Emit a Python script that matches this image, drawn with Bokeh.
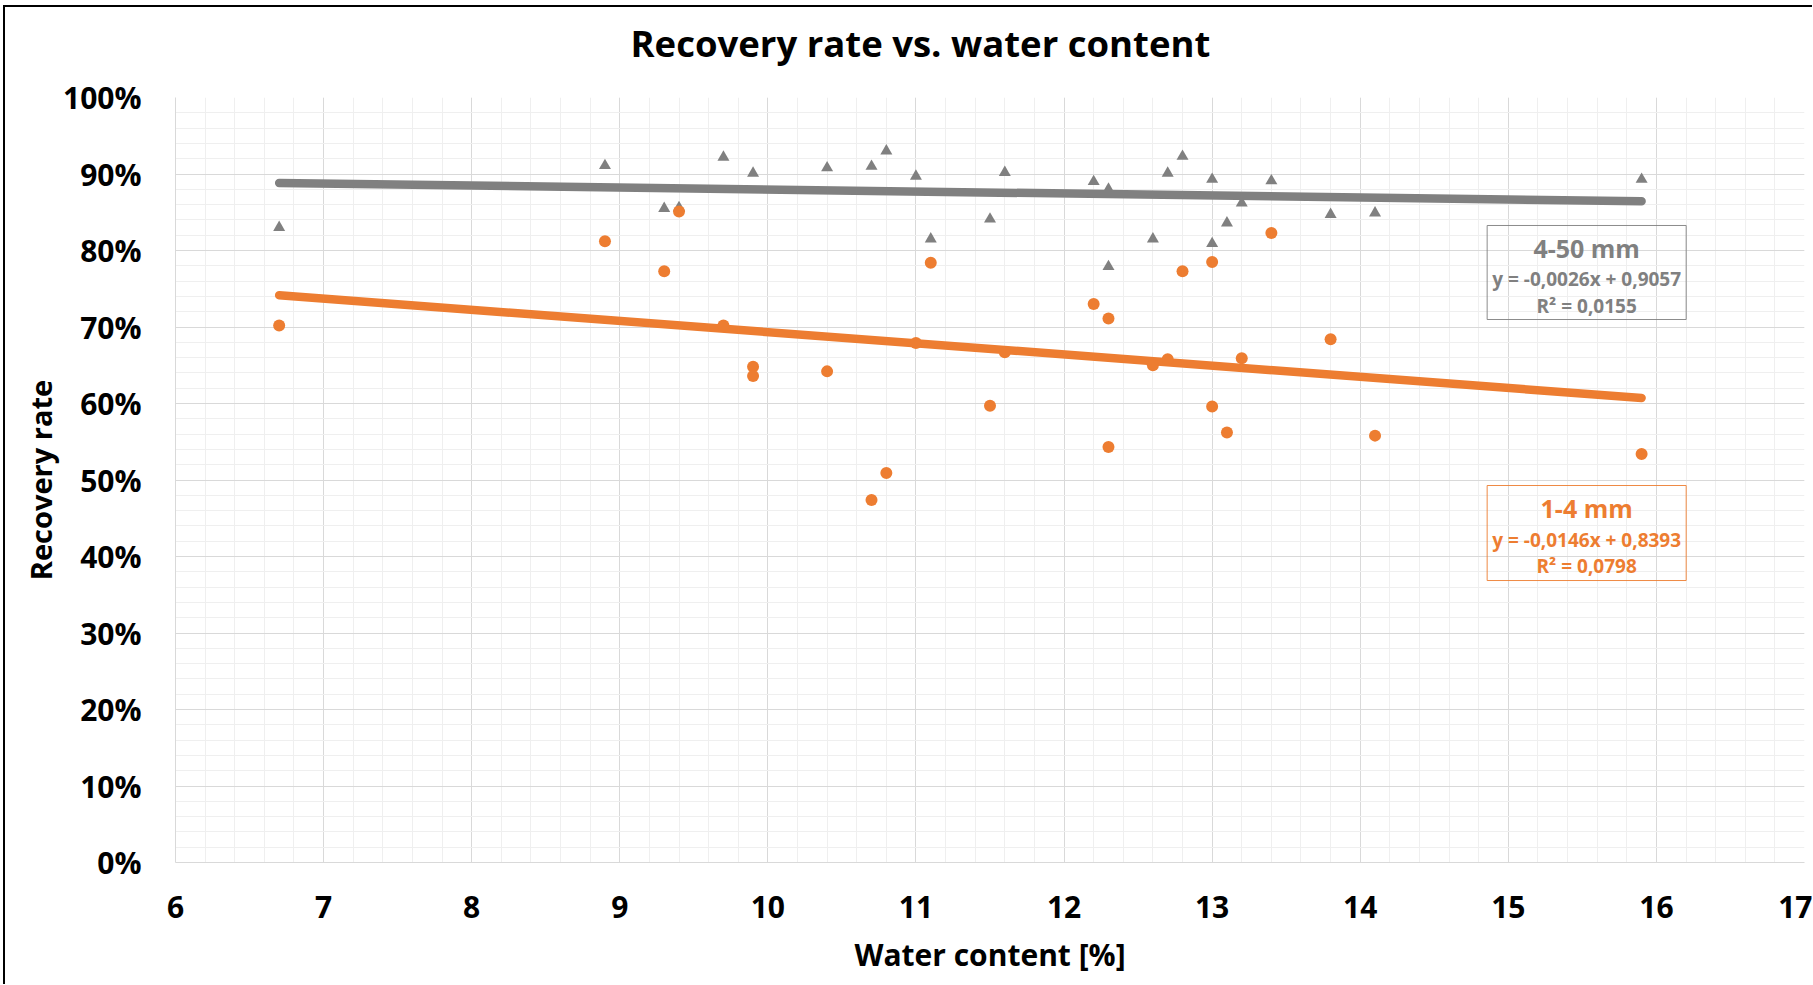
from bokeh.plotting import figure
from bokeh.models import (SingleIntervalTicker, NumeralTickFormatter, BoxAnnotation,
                          Label, Range1d, ColumnDataSource, Title)
from bokeh.embed import file_html
from bokeh.resources import INLINE

# ---------------- data ----------------
coarse_x = [6.7, 8.9, 9.3, 9.4, 9.7, 9.9, 10.4, 10.7, 10.8, 11.0, 11.1, 11.5, 11.6, 12.2,
            12.3, 12.3, 12.6, 12.7, 12.8, 13.0, 13.0, 13.1, 13.2, 13.4, 13.8, 14.1, 15.9]
coarse_y = [0.830, 0.911, 0.855, 0.856, 0.922, 0.901, 0.908, 0.910, 0.930, 0.897, 0.815,
            0.841, 0.902, 0.890, 0.880, 0.779, 0.815, 0.901, 0.923, 0.893, 0.809, 0.836,
            0.862, 0.891, 0.847, 0.849, 0.893]

fine_x = [6.7, 8.9, 9.3, 9.4, 9.7, 9.9, 9.9, 10.4, 10.7, 10.8, 11.0, 11.1, 11.5, 11.6,
          12.2, 12.3, 12.3, 12.6, 12.7, 12.8, 13.0, 13.0, 13.1, 13.2, 13.4, 13.8, 14.1, 15.9]
fine_y = [0.702, 0.812, 0.773, 0.851, 0.702, 0.648, 0.636, 0.642, 0.474, 0.509, 0.679,
          0.784, 0.597, 0.667, 0.730, 0.711, 0.543, 0.650, 0.658, 0.773, 0.785, 0.596,
          0.562, 0.659, 0.823, 0.684, 0.558, 0.534]

# linear trend lines (slope, intercept) and R^2 as printed in the chart
coarse_fit = (-0.0026, 0.9057)
coarse_r2 = "0,0155"
fine_fit = (-0.0146, 0.8393)
fine_r2 = "0,0798"

series_names = ["4-50 mm", "1-4 mm"]
chart_title = "Recovery rate vs. water content"
x_title = "Water content [%]"
y_title = "Recovery rate"
x_ticks_interval = 1
y_ticks_interval = 0.1

GRAY = "#808080"
ORANGE = "#ED7D31"
FONT = "Open Sans"

# ---------------- figure ----------------
W, H = 1812, 984
p = figure(width=W, height=H, x_range=Range1d(6, 17), y_range=Range1d(0, 1),
           output_backend="svg", toolbar_location=None, title=None,
           min_border_left=175, min_border_right=W - 1804, min_border_top=97,
           min_border_bottom=H - 862)
# thin black chart-area border on the left and top edges
p.styles = {"box-shadow": "inset 3px 5px 0 0 white, inset 5px 7px 0 0 black"}
p.outline_line_color = None
p.background_fill_color = "white"
p.border_fill_color = None

# spacer panel between the plot frame and the title (keeps the title high)
p.add_layout(Title(text=" ", text_font_size="1px", standoff=27), "above")
p.add_layout(Title(text=chart_title, text_font=FONT, text_font_style="bold",
                   text_font_size="36.5px", text_color="black", align="left", offset=455,
                   vertical_align="bottom", standoff=0), "above")

p.xaxis.ticker = SingleIntervalTicker(interval=x_ticks_interval, num_minor_ticks=5)
p.yaxis.ticker = SingleIntervalTicker(interval=y_ticks_interval, num_minor_ticks=5)
p.yaxis.formatter = NumeralTickFormatter(format="0%")

for ax in (p.xaxis, p.yaxis):
    ax.major_tick_line_color = None
    ax.minor_tick_line_color = None
    ax.major_tick_out = 0
    ax.major_tick_in = 0
    ax.axis_line_color = "#d9d9d9"
    ax.major_label_text_font = FONT
    ax.major_label_text_font_style = "bold"
    ax.major_label_text_font_size = "30px"
    ax.major_label_text_color = "black"
    ax.axis_label_text_font = FONT
    ax.axis_label_text_font_style = "bold"
    ax.axis_label_text_color = "black"

p.xaxis.axis_label = x_title
p.yaxis.axis_label = y_title
p.xaxis.axis_label_text_font_size = "30px"
p.yaxis.axis_label_text_font_size = "29px"
p.xaxis.major_label_standoff = 29
p.yaxis.major_label_standoff = 30
p.xaxis.axis_label_standoff = 13
p.yaxis.axis_label_standoff = 0

for g in (p.xgrid, p.ygrid):
    g.grid_line_color = "#d9d9d9"
    g.grid_line_width = 1
    g.minor_grid_line_color = "#efefef"
    g.minor_grid_line_width = 1

# ---------------- trend lines ----------------
def trend(xs, fit):
    x0, x1 = min(xs), max(xs)
    return [x0, x1], [fit[0] * x0 + fit[1], fit[0] * x1 + fit[1]]

tx, ty = trend(coarse_x, coarse_fit)
p.line(tx, ty, line_color=GRAY, line_width=8.5, line_cap="round")
tx, ty = trend(fine_x, fine_fit)
p.line(tx, ty, line_color=ORANGE, line_width=8.5, line_cap="round")

# ---------------- points ----------------
p.scatter(x="x", y="y", source=ColumnDataSource(dict(x=coarse_x, y=coarse_y)),
          marker="triangle", size=12, fill_color=GRAY, line_color=None)
p.scatter(x="x", y="y", source=ColumnDataSource(dict(x=fine_x, y=fine_y)),
          marker="circle", size=12, fill_color=ORANGE, line_color=None)

# ---------------- trendline label boxes ----------------
box_left, box_right = 14.857, 16.201
text_x = (box_left + box_right) / 2
boxes = [
    (series_names[0], coarse_fit, coarse_r2, GRAY, 0.8327, 0.7098, (0.8037, 0.7630, 0.7281)),
    (series_names[1], fine_fit, fine_r2, ORANGE, 0.4928, 0.3686, (0.4634, 0.4213, 0.3876)),
]

def fmt(v):
    return f"{abs(v):.4f}".replace(".", ",")

for name, fit, r2, col, top, bottom, ys in boxes:
    p.add_layout(BoxAnnotation(left=box_left, right=box_right, top=top, bottom=bottom,
                               fill_color=None, fill_alpha=0, line_color=col, line_width=1,
                               line_alpha=0.9))
    sign = "-" if fit[0] < 0 else ""
    eq = f"y = {sign}{fmt(fit[0])}x + {fmt(fit[1])}"
    for txt, yy, fs in ((name, ys[0], "25px"), (eq, ys[1], "19px"), (f"R² = {r2}", ys[2], "19px")):
        p.add_layout(Label(x=text_x, y=yy, text=txt, text_align="center", text_baseline="middle",
                           text_font=FONT, text_font_style="bold", text_font_size=fs,
                           text_color=col))

open("out.html", "w").write(file_html(p, INLINE))
